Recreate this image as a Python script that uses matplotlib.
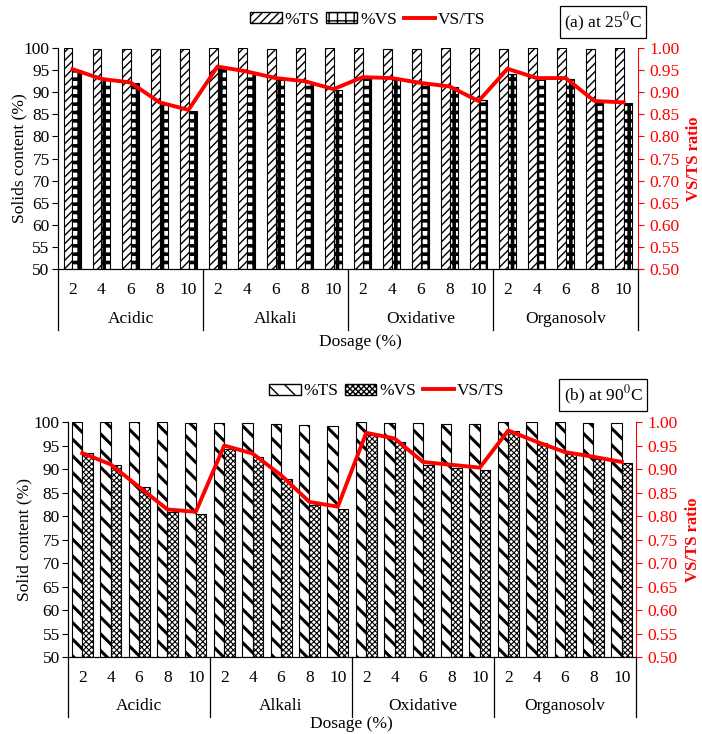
import matplotlib.pyplot as plt
import matplotlib.transforms as mtransforms
from matplotlib.patches import Patch
from matplotlib.lines import Line2D
import numpy as np

plt.rcParams['font.family'] = 'Liberation Serif'
plt.rcParams['mathtext.fontset'] = 'stix'
plt.rcParams['font.size'] = 12.5

treatments = ['Acidic', 'Alkali', 'Oxidative', 'Organosolv']
dosages = [2, 4, 6, 8, 10]

# pretreatment at 25 C
ts_25 = [100.0, 99.7, 99.7, 99.7, 99.7, 100.0, 100.0, 99.7, 100.0, 100.0,
         100.0, 99.8, 99.8, 100.0, 100.0, 99.8, 100.0, 100.0, 99.8, 100.0]
vs_25 = [95.0, 92.8, 92.0, 87.5, 85.8, 95.5, 94.3, 92.8, 92.3, 90.6,
         93.3, 93.0, 92.0, 91.2, 88.2, 94.2, 93.0, 93.0, 88.0, 87.6]
ratio_25 = [0.952, 0.930, 0.922, 0.877, 0.860, 0.958, 0.947, 0.932, 0.925, 0.907,
            0.934, 0.932, 0.921, 0.913, 0.880, 0.953, 0.932, 0.932, 0.880, 0.877]

# pretreatment at 90 C
ts_90 = [100.0, 100.0, 100.0, 100.0, 99.8, 99.7, 99.7, 99.5, 99.4, 99.2,
         100.0, 99.8, 99.8, 99.6, 99.6, 100.0, 100.0, 100.0, 99.8, 99.8]
vs_90 = [93.4, 90.9, 86.2, 80.9, 80.5, 94.2, 92.6, 87.8, 82.3, 81.5,
         97.2, 95.8, 90.9, 90.2, 89.9, 98.1, 95.5, 93.3, 92.2, 91.2]
ratio_90 = [0.934, 0.910, 0.862, 0.814, 0.809, 0.950, 0.933, 0.887, 0.830, 0.820,
            0.977, 0.965, 0.915, 0.909, 0.903, 0.982, 0.958, 0.936, 0.926, 0.915]

FS = 12.5


def hatched_bars(ax, x, h, w, hatch, lw):
    bars = ax.bar(x, np.array(h) - 50, w, bottom=50, facecolor='white',
                  edgecolor='black', linewidth=0.8, hatch=hatch, zorder=2)
    for b in bars:
        b.set_hatch_linewidth(lw)
    return bars


def draw_panel(rect, ts, vs, ratio, width, hatches, hlw, ylabel, box_text,
               box_y, legend_xy, xlabel_xy, line_depth, label_x):
    ax = fig.add_axes(rect)
    x = np.arange(len(ts))
    hatched_bars(ax, x - width / 2, ts, width, hatches[0], hlw[0])
    hatched_bars(ax, x + width / 2, vs, width, hatches[1], hlw[1])
    ax.set_xlim(-0.5, len(ts) - 0.5)
    ax.set_ylim(50, 100)
    ax.set_yticks(np.arange(50, 101, 5))
    ax.set_xticks(x)
    ax.set_xticklabels(dosages * len(treatments))
    ax.tick_params(axis='x', length=0, pad=9, labelsize=FS)
    ax.tick_params(axis='y', direction='out', length=4, labelsize=FS, pad=2)
    ax.spines['top'].set_visible(False)
    ax.spines['right'].set_visible(False)
    ax.set_ylabel(ylabel, fontsize=FS)
    ax.yaxis.set_label_coords(label_x[0], 0.5)

    # group labels and separators under the category axis
    trans = mtransforms.blended_transform_factory(ax.transData, ax.transAxes)
    for i, name in enumerate(treatments):
        ax.text(i * 5 + 2, -line_depth * 0.82, name, transform=trans,
                ha='center', va='center', fontsize=FS)
    for k in range(len(treatments) + 1):
        ax.plot([k * 5 - 0.5] * 2, [0, -line_depth], color='black', lw=0.9,
                transform=trans, clip_on=False)

    ax2 = ax.twinx()
    ax2.plot(x, ratio, color='red', lw=2.8, zorder=3)
    ax2.set_ylim(0.5, 1.0)
    ax2.set_yticks(np.arange(0.5, 1.001, 0.05))
    ax2.yaxis.set_major_formatter(plt.FormatStrFormatter('%.2f'))
    ax2.tick_params(axis='y', colors='red', length=4, labelsize=FS, pad=4)
    ax2.spines['right'].set_color('red')
    ax2.spines['top'].set_visible(False)
    ax2.set_ylabel('VS/TS ratio', color='red', fontweight='bold', fontsize=12)
    ax2.yaxis.set_label_coords(label_x[1], 0.5)

    handles = [Patch(facecolor='white', edgecolor='black', hatch=hatches[0]),
               Patch(facecolor='white', edgecolor='black', hatch=hatches[1]),
               Line2D([], [], color='red', lw=2.8)]
    for hd, lw in zip(handles[:2], hlw):
        hd.set_hatch_linewidth(lw)
    fig.legend(handles, ['%TS', '%VS', 'VS/TS'], loc='center',
               bbox_to_anchor=legend_xy, ncol=3, frameon=False,
               fontsize=FS, handlelength=1.8, handleheight=0.6,
               columnspacing=0.4, handletextpad=0.15)
    fig.text(0.859, box_y, box_text, ha='center', va='center', fontsize=FS,
             bbox=dict(boxstyle='square,pad=0.25', facecolor='white',
                       edgecolor='black', lw=0.9))
    fig.text(xlabel_xy[0], xlabel_xy[1], 'Dosage (%)', ha='center',
             va='center', fontsize=FS)


fig = plt.figure(figsize=(7.02, 7.34), dpi=100)

draw_panel([0.0826, 0.6335, 0.8264, 0.3011], ts_25, vs_25, ratio_25, 0.28,
           ['////', '++'], [1.0, 2.6], 'Solids content (%)',
           '(a) at 25$^{0}$C', 0.970, (0.524, 0.973), (0.513, 0.534), 0.276,
           (-0.053, 1.083))
draw_panel([0.0969, 0.1049, 0.8091, 0.3201], ts_90, vs_90, ratio_90, 0.37,
           ['\\\\', 'xxxxxx'], [2.2, 0.8], 'Solid content (%)',
           '(b) at 90$^{0}$C', 0.462, (0.551, 0.467), (0.500, 0.0136), 0.255,
           (-0.062, 1.086))

fig.savefig('out.png', dpi=100)
